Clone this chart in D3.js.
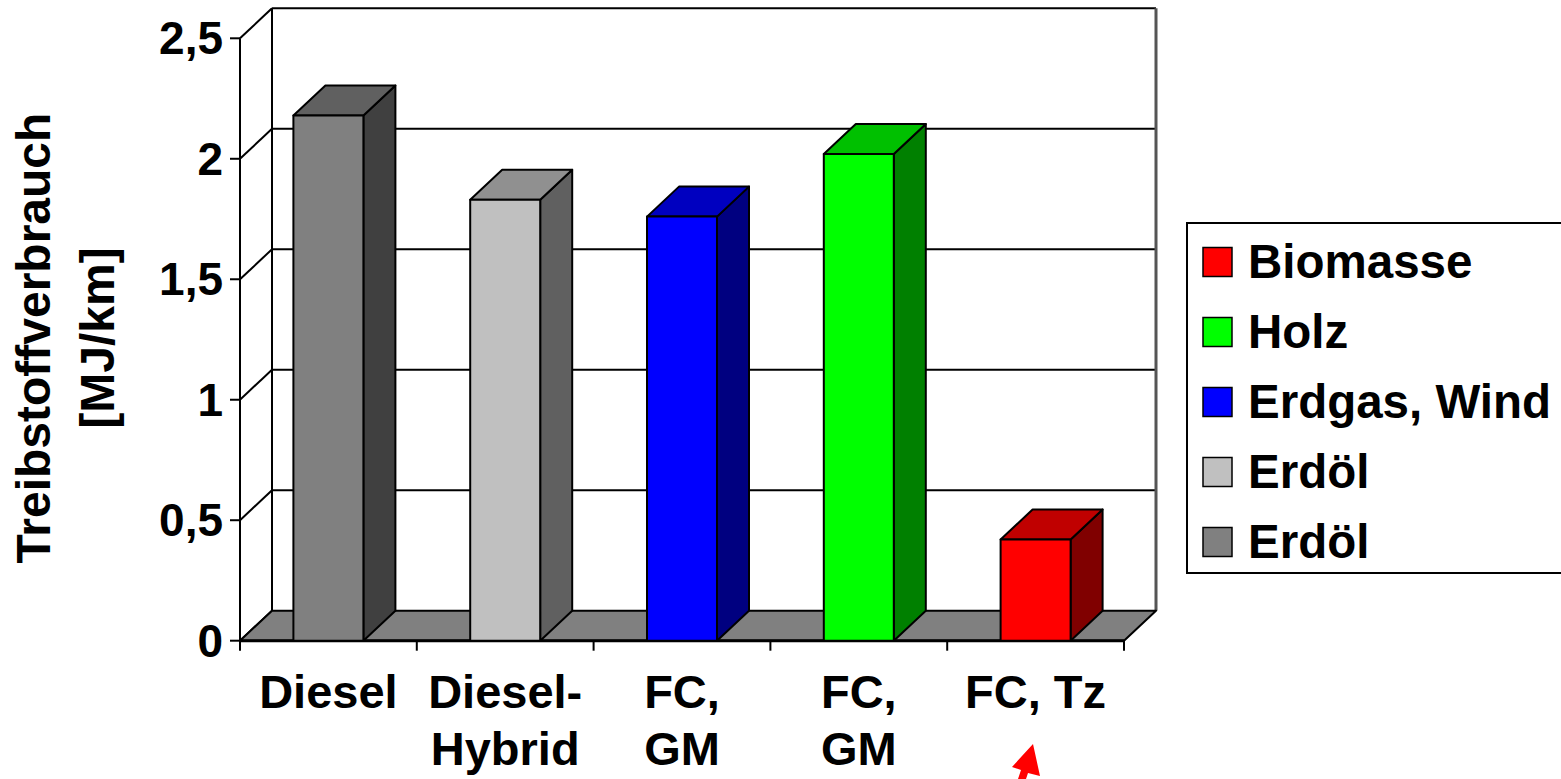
<!DOCTYPE html>
<html>
<head>
<meta charset="utf-8">
<script src="https://cdn.jsdelivr.net/npm/d3@7"></script>
<style>
  html, body { margin: 0; padding: 0; background: #fff; }
  svg { display: block; }
  text { font-family: "Liberation Sans", Arial, sans-serif; font-weight: bold; fill: #000; }
</style>
</head>
<body>
<script>
// Fuel consumption per vehicle concept, one bar per concept
const categories = [["Diesel"], ["Diesel-", "Hybrid"], ["FC,", "GM"], ["FC,", "GM"], ["FC, Tz"]];
const values = [2.18, 1.83, 1.76, 2.02, 0.42];
const sources = ["Erdöl", "Erdöl", "Erdgas, Wind", "Holz", "Biomasse"];
const yTicks = [0, 0.5, 1, 1.5, 2, 2.5];
const yTickLabels = ["0", "0,5", "1", "1,5", "2", "2,5"];
const yTitle = ["Treibstoffverbrauch", "[MJ/km]"];

// front / top / side shades of each bar
const faceColors = [
  { front: "#808080", top: "#606060", side: "#404040" },
  { front: "#C0C0C0", top: "#909090", side: "#606060" },
  { front: "#0000FF", top: "#0000C0", side: "#000080" },
  { front: "#00FF00", top: "#00C000", side: "#008000" },
  { front: "#FF0000", top: "#C00000", side: "#800000" }
];

const W = 1561, H = 779;
const svg = d3.select("body").append("svg").attr("width", W).attr("height", H);

// depth offset of the 3D box
const DX = 32, DY = 30;
const x = d3.scaleBand().domain(d3.range(categories.length)).range([240, 1124]).paddingInner(0).paddingOuter(0);
const y = d3.scaleLinear().domain([0, 2.5]).range([640.7, 38.3]);
const barW = 70;

const x0 = x.range()[0], x1 = x.range()[1];
const y0 = y(0), yTop = y(2.5);

// back wall
const wall = svg.append("g");
wall.append("rect").attr("x", x0 + DX).attr("y", yTop - DY).attr("width", x1 - x0).attr("height", y0 - yTop).attr("fill", "#fff");
yTicks.forEach(t => {
  // slanted line on left side wall
  wall.append("line")
    .attr("x1", x0).attr("y1", y(t)).attr("x2", x0 + DX).attr("y2", y(t) - DY)
    .attr("stroke", "#000").attr("stroke-width", 2);
  // horizontal gridline on back wall
  if (t > 0) {
    wall.append("line")
      .attr("x1", x0 + DX).attr("y1", y(t) - DY).attr("x2", x1 + DX).attr("y2", y(t) - DY)
      .attr("stroke", "#000").attr("stroke-width", 2);
  }
});
wall.append("line").attr("x1", x0 + DX).attr("y1", yTop - DY).attr("x2", x0 + DX).attr("y2", y0 - DY)
  .attr("stroke", "#000").attr("stroke-width", 2);
wall.append("line").attr("x1", x1 + DX).attr("y1", yTop - DY).attr("x2", x1 + DX).attr("y2", y0 - DY)
  .attr("stroke", "#555").attr("stroke-width", 3);

// floor
svg.append("path")
  .attr("d", `M${x0},${y0} L${x1},${y0} L${x1 + DX},${y0 - DY} L${x0 + DX},${y0 - DY} Z`)
  .attr("fill", "#808080").attr("stroke", "#000").attr("stroke-width", 2).attr("stroke-linejoin", "round");

// value axis
const yAxis = svg.append("g");
yAxis.append("line").attr("x1", x0).attr("y1", yTop).attr("x2", x0).attr("y2", y0)
  .attr("stroke", "#000").attr("stroke-width", 2);
yTicks.forEach((t, i) => {
  yAxis.append("line").attr("x1", x0 - 10).attr("y1", y(t)).attr("x2", x0).attr("y2", y(t))
    .attr("stroke", "#000").attr("stroke-width", 2);
  yAxis.append("text").attr("x", 223).attr("y", y(t) + 16)
    .attr("text-anchor", "end").attr("font-size", 46).text(yTickLabels[i]);
});

// category axis
const xAxis = svg.append("g");
xAxis.append("line").attr("x1", x0).attr("y1", y0).attr("x2", x1).attr("y2", y0)
  .attr("stroke", "#000").attr("stroke-width", 3);
d3.range(categories.length + 1).forEach(i => {
  const xx = x0 + i * x.bandwidth();
  xAxis.append("line").attr("x1", xx).attr("y1", y0).attr("x2", xx).attr("y2", y0 + 10)
    .attr("stroke", "#000").attr("stroke-width", 2);
});
categories.forEach((lines, i) => {
  const t = xAxis.append("text").attr("text-anchor", "middle").attr("font-size", 47);
  lines.forEach((ln, j) => {
    t.append("tspan").attr("x", x(i) + x.bandwidth() / 2).attr("y", 708 + j * 57).text(ln);
  });
});

// bars
const bars = svg.append("g");
values.forEach((v, i) => {
  const c = faceColors[i];
  const bx = x(i) + (x.bandwidth() - barW) / 2;
  const top = y(v);
  const g = bars.append("g").attr("stroke", "#000").attr("stroke-width", 2).attr("stroke-linejoin", "round");
  g.append("path").attr("fill", c.side)
    .attr("d", `M${bx + barW},${y0} L${bx + barW + DX},${y0 - DY} L${bx + barW + DX},${top - DY} L${bx + barW},${top} Z`);
  g.append("path").attr("fill", c.top)
    .attr("d", `M${bx},${top} L${bx + DX},${top - DY} L${bx + barW + DX},${top - DY} L${bx + barW},${top} Z`);
  g.append("rect").attr("fill", c.front).attr("x", bx).attr("y", top).attr("width", barW).attr("height", y0 - top);
});

// axis title
const title = svg.append("text").attr("text-anchor", "middle").attr("font-size", 48)
  .attr("transform", "translate(50,338) rotate(-90)");
yTitle.forEach((ln, j) => {
  title.append("tspan").attr("x", 0).attr("y", j * 64).text(ln);
});

// legend (series listed last-to-first)
const legend = svg.append("g");
legend.append("rect").attr("x", 1187).attr("y", 223).attr("width", 400).attr("height", 350)
  .attr("fill", "#fff").attr("stroke", "#000").attr("stroke-width", 2);
const order = d3.range(values.length).reverse();
order.forEach((i, k) => {
  const cy = 262 + k * 70;
  legend.append("rect").attr("x", 1203).attr("y", cy - 14.5).attr("width", 29).attr("height", 29)
    .attr("fill", faceColors[i].front).attr("stroke", "#000").attr("stroke-width", 1.5);
  legend.append("text").attr("x", 1248).attr("y", cy + 16).attr("font-size", 47.5).text(sources[i]);
});

// red pointer under the last category
svg.append("path")
  .attr("d", "M1033,744 L1012,767 L1021,770 L1017,782 L1025,782 L1028,773 L1040,776 Z")
  .attr("fill", "#FF0000");
</script>
</body>
</html>
